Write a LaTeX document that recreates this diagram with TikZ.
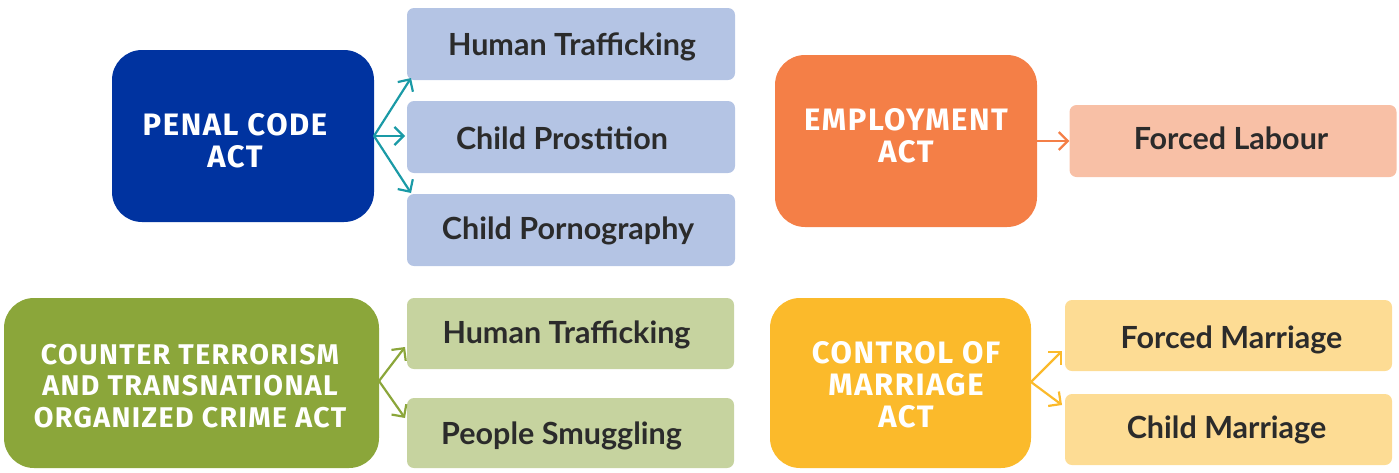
\documentclass[tikz,border=0pt]{standalone}
\usepackage{fontspec}
\setmainfont{Lato}
\newfontfamily\headfont{Fira Sans}[LetterSpace=5]
\usetikzlibrary{arrows.meta}
\definecolor{penal}{HTML}{0033A0}
\definecolor{penallt}{HTML}{B4C4E4}
\definecolor{teal}{HTML}{1A9AA6}
\definecolor{empl}{HTML}{F47F47}
\definecolor{emptlt}{HTML}{F8C0A6}
\definecolor{ctgreen}{HTML}{8BA63A}
\definecolor{ctlt}{HTML}{C6D39F}
\definecolor{marr}{HTML}{FBBA2B}
\definecolor{marrlt}{HTML}{FDDC94}
\definecolor{txt}{HTML}{2B2B2B}
\tikzset{
  head/.style={fill=#1, draw=none, rounded corners=30pt},
  headtxt/.style={text=white, align=center,
    font=\headfont\bfseries\fontsize{31}{32}\selectfont, inner sep=0pt},
  sub/.style={fill=#1, draw=none, rounded corners=7pt},
  subtxt/.style={text=txt, font=\bfseries\fontsize{30.5}{32}\selectfont, inner sep=0pt},
  arr/.style={draw=#1, line width=2.2pt, -{Straight Barb[length=9pt,width=18pt,line width=2.2pt]}}
}
\begin{document}
\begin{tikzpicture}[x=1pt,y=-1pt]
\useasboundingbox (0,0) rectangle (1399,472);
% Penal code
\node[head=penal, minimum width=262pt, minimum height=172pt] (pc) at (243,136) {};
\node[headtxt] (pct) at (235,141) {PENAL CODE\\ACT};
\node[sub=penallt, minimum width=328pt, minimum height=72pt] (ht1) at (571,44) {};
\node[subtxt] (ht1t) at ([shift={(1,3)}]ht1.center) {Human Trafficking};
\node[sub=penallt, minimum width=328pt, minimum height=72pt] (cp1) at (571,137) {};
\node[subtxt] (cp1t) at ([shift={(-9,1)}]cp1.center) {Child Prostition};
\node[sub=penallt, minimum width=328pt, minimum height=72pt] (cp2) at (571,230) {};
\node[subtxt] (cp2t) at ([shift={(-3,1)}]cp2.center) {Child Pornography};
\coordinate (pcs) at (374,136);
\coordinate (t1) at (411,78);
\coordinate (t2) at (405,136);
\coordinate (t3) at (411,193);
\draw[arr=teal] (pcs) -- (t1);
\draw[arr=teal] (pcs) -- (t2);
\draw[arr=teal] (pcs) -- (t3);
% Employment
\node[head=empl, minimum width=262pt, minimum height=172pt] (em) at (906,141) {};
\node[headtxt] (emt) at (906,136) {EMPLOYMENT\\ACT};
\node[sub=emptlt, minimum width=327pt, minimum height=72pt] (fl) at (1233,141) {};
\node[subtxt] (flt) at ([shift={(-2,-3)}]fl.center) {Forced Labour};
\draw[arr=empl, line width=1.6pt] (em.east) -- (fl.west);
% Counter terrorism
\node[head=ctgreen, minimum width=375pt, minimum height=170pt] (ct) at (191.5,383) {};
\node[headtxt, font=\headfont\bfseries\fontsize{28.5}{31.5}\selectfont] (ctt) at (190,386) {COUNTER TERRORISM\\AND TRANSNATIONAL\\ORGANIZED CRIME ACT};
\node[sub=ctlt, minimum width=327pt, minimum height=71pt] (ht2) at (570.5,333.5) {};
\node[subtxt] (ht2t) at ([shift={(-4,1)}]ht2.center) {Human Trafficking};
\node[sub=ctlt, minimum width=327pt, minimum height=70pt] (ps) at (570.5,433) {};
\node[subtxt] (pst) at ([shift={(-9,3)}]ps.center) {People Smuggling};
\coordinate (cts) at (379,381);
\coordinate (g1) at (405,347);
\coordinate (g2) at (405,418);
\draw[arr=ctgreen] (cts) -- (g1);
\draw[arr=ctgreen] (cts) -- (g2);
% Control of marriage
\node[head=marr, minimum width=261pt, minimum height=170pt] (cm) at (900.5,383) {};
\node[headtxt] (cmt) at (906,385) {CONTROL OF\\MARRIAGE\\ACT};
\node[sub=marrlt, minimum width=327pt, minimum height=71pt] (fm) at (1228.5,335.5) {};
\node[subtxt] (fmt) at ([shift={(3,4)}]fm.center) {Forced Marriage};
\node[sub=marrlt, minimum width=327pt, minimum height=71pt] (cmr) at (1228.5,429.5) {};
\node[subtxt] (cmrt) at ([shift={(-2,0)}]cmr.center) {Child Marriage};
\coordinate (cms) at (1031,382);
\coordinate (m1) at (1062,351);
\coordinate (m2) at (1062,405);
\draw[arr=marr] (cms) -- (m1);
\draw[arr=marr] (cms) -- (m2);
\end{tikzpicture}
\end{document}
